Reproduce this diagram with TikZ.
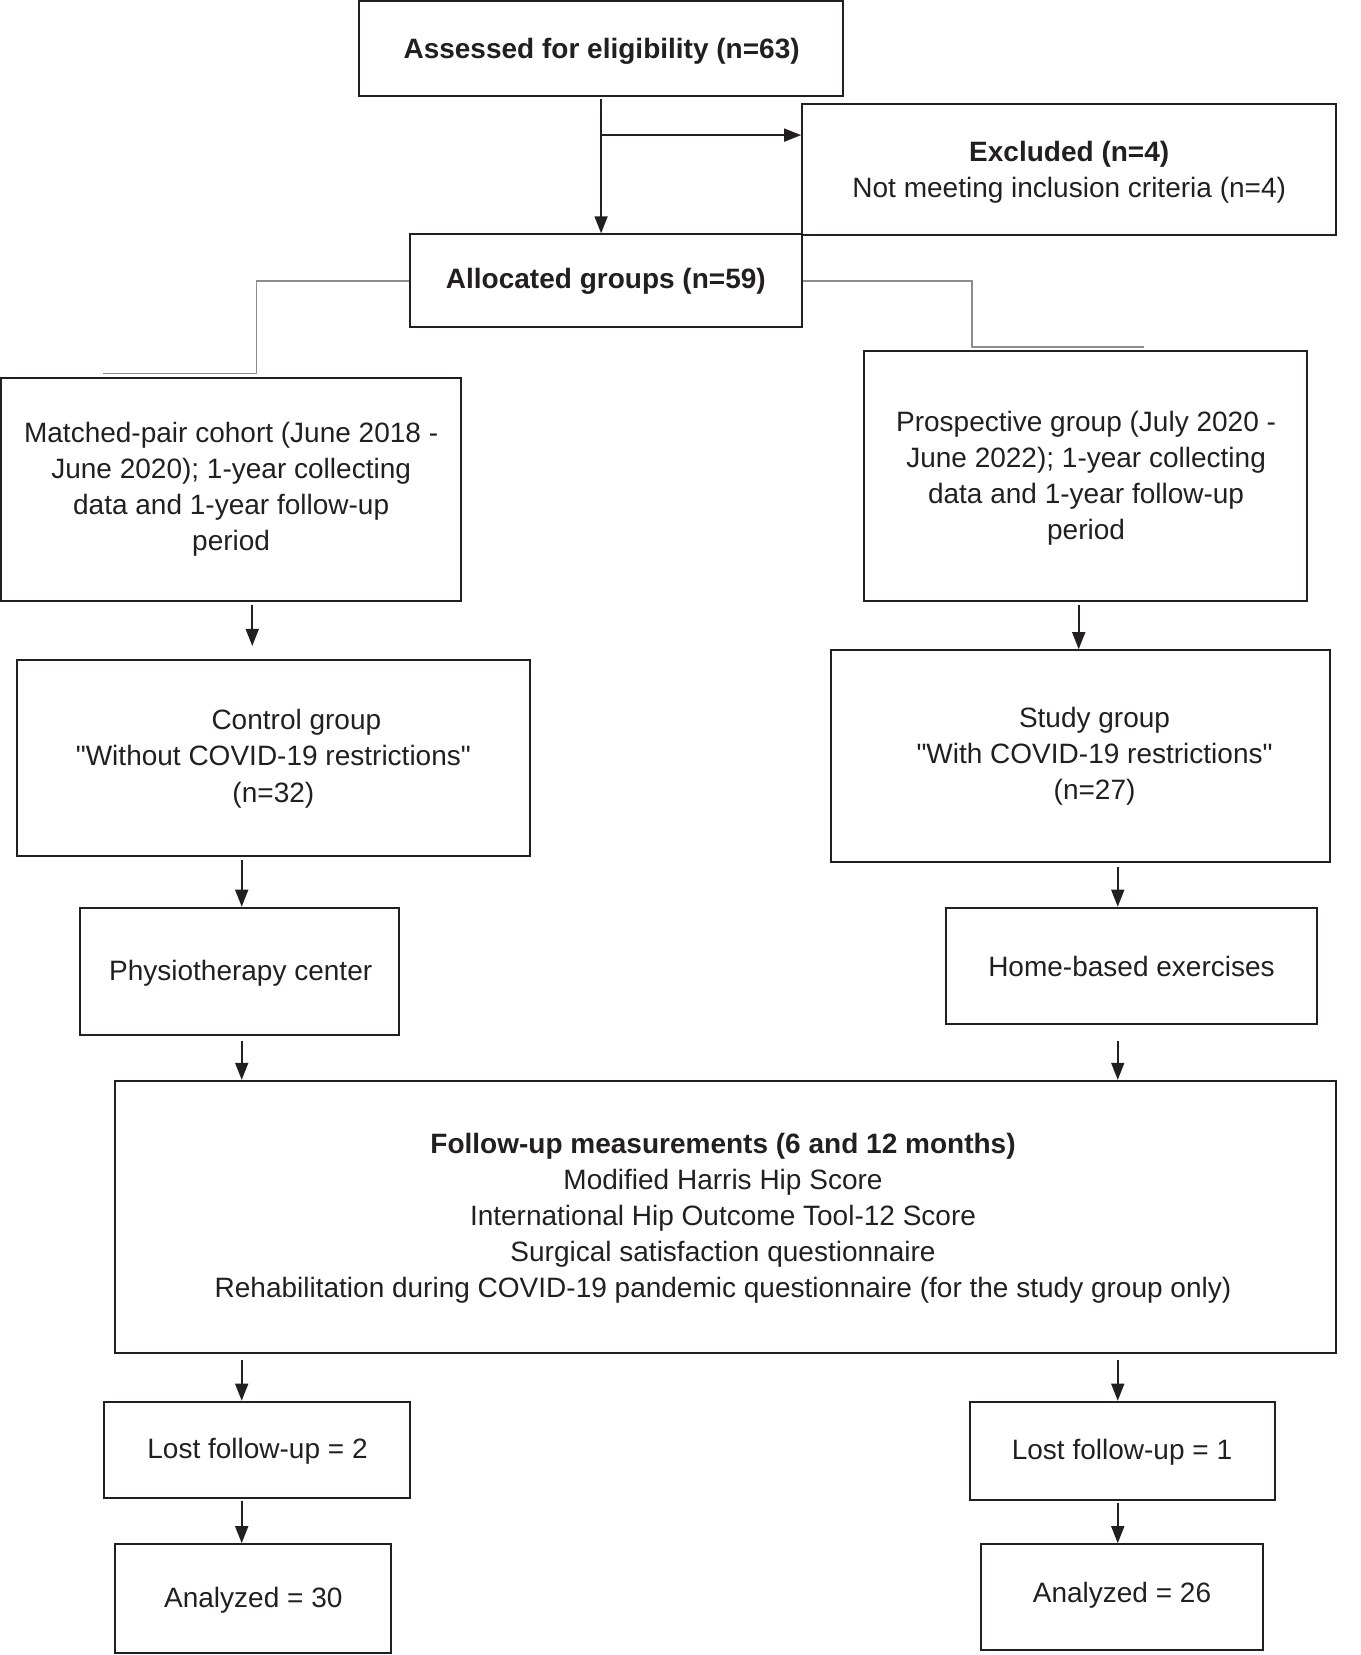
\documentclass[tikz,border=0pt]{standalone}
\usepackage{fontspec}
\setmainfont{Liberation Sans}
\usetikzlibrary{arrows.meta,fit,calc}
\definecolor{ink}{HTML}{231F20}
\definecolor{grayline}{HTML}{8C8C8C}
\begin{document}
\begin{tikzpicture}[x=1.0551pt,y=-1.0551pt,
  box/.style={draw=ink,line width=2pt,inner sep=0pt},
  txt/.style={font=\fontsize{28}{36}\selectfont,text=ink,align=center,inner sep=0pt,yshift=-3pt},
  arr/.style={draw=ink,line width=1.6pt,-{Triangle[length=17pt,width=13pt]}},
  conn/.style={draw=grayline,line width=1.6pt}]
\useasboundingbox (0,0) rectangle (1289,1568);

% boxes
\node[box,fit={(340,1)(799,91)}] (assess) {};
\node[box,fit={(760,99)(1266,223)}] (excl) {};
\node[box,fit={(388,222)(760,310)}] (alloc) {};
\node[box,fit={(1,358)(437,569)}] (matched) {};
\node[box,fit={(819,333)(1238,569)}] (prosp) {};
\node[box,fit={(16,625)(502,811)}] (control) {};
\node[box,fit={(787,616)(1260,817)}] (study) {};
\node[box,fit={(76,860)(378,981)}] (physio) {};
\node[box,fit={(896,860)(1248,970)}] (home) {};
\node[box,fit={(109,1024)(1266,1282)}] (follow) {};
\node[box,fit={(99,1328)(388,1419)}] (lostA) {};
\node[box,fit={(919,1328)(1208,1421)}] (lostB) {};
\node[box,fit={(109,1463)(370,1566)}] (analA) {};
\node[box,fit={(929,1463)(1197,1563)}] (analB) {};

% texts
\node[txt] (assesst) at (570,46) {\bfseries Assessed for eligibility (n=63)};
\node[txt] (exclt) at (1013,160) {\textbf{Excluded (n=4)}\\Not meeting inclusion criteria (n=4)};
\node[txt] (alloct) at (574,264) {\bfseries Allocated groups (n=59)};
\node[txt] (matchedt) at (219,461) {Matched-pair cohort (June 2018 -\\June 2020); 1-year collecting\\data and 1-year follow-up\\period};
\node[txt] (prospt) at (1029,450) {Prospective group (July 2020 -\\June 2022); 1-year collecting\\data and 1-year follow-up\\period};
\node[txt] (controlt) at (259,716) {\hspace*{46pt}Control group\\\textquotedbl Without COVID-19 restrictions\textquotedbl\\(n=32)};
\node[txt] (studyt) at (1037,714) {Study group\\\textquotedbl With COVID-19 restrictions\textquotedbl\\(n=27)};
\node[txt] (physiot) at (228,919) {Physiotherapy center};
\node[txt] (homet) at (1072,913) {Home-based exercises};
\node[txt] (followt) at (685,1151) {\textbf{Follow-up measurements (6 and 12 months)}\\Modified Harris Hip Score\\International Hip Outcome Tool-12 Score\\Surgical satisfaction questionnaire\\Rehabilitation during COVID-19 pandemic questionnaire (for the study group only)};
\node[txt] (lostAt) at (244,1372) {Lost follow-up = 2};
\node[txt] (lostBt) at (1063,1373) {Lost follow-up = 1};
\node[txt] (analAt) at (240,1513) {Analyzed = 30};
\node[txt] (analBt) at (1063,1509) {Analyzed = 26};

% connectors
\coordinate (br) at (570,128);
\draw[arr] ($(assess.south)+(0,2)$) -- (alloc.north -| assess.south);
\draw[arr] (br) -- (excl.west |- br);

\draw[conn] (alloc.west) -- (243,266) -- (243,354) -- (98,354);
\draw[conn] (alloc.east) -- (921,266) -- (921,329) -- (1084,329);

\draw[arr] (matched.south -| 239,0) ++(0,3) -- (239,612);
\draw[arr] (prosp.south -| 1022,0) ++(0,3) -- (study.north -| 1022,0);
\draw[arr] (control.south -| 229,0) ++(0,3) -- (physio.north -| 229,0);
\draw[arr] (study.south -| 1059,0) ++(0,3) -- (home.north -| 1059,0);
\draw[arr] (physio.south -| 229,0) ++(0,4) -- (follow.north -| 229,0);
\draw[arr] (home.south -| 1059,0) ++(0,15) -- (follow.north -| 1059,0);
\draw[arr] (follow.south -| 229,0) ++(0,6) -- (lostA.north -| 229,0);
\draw[arr] (follow.south -| 1059,0) ++(0,6) -- (lostB.north -| 1059,0);
\draw[arr] (lostA.south -| 229,0) ++(0,2) -- (analA.north -| 229,0);
\draw[arr] (lostB.south -| 1059,0) ++(0,2) -- (analB.north -| 1059,0);
\end{tikzpicture}
\end{document}
